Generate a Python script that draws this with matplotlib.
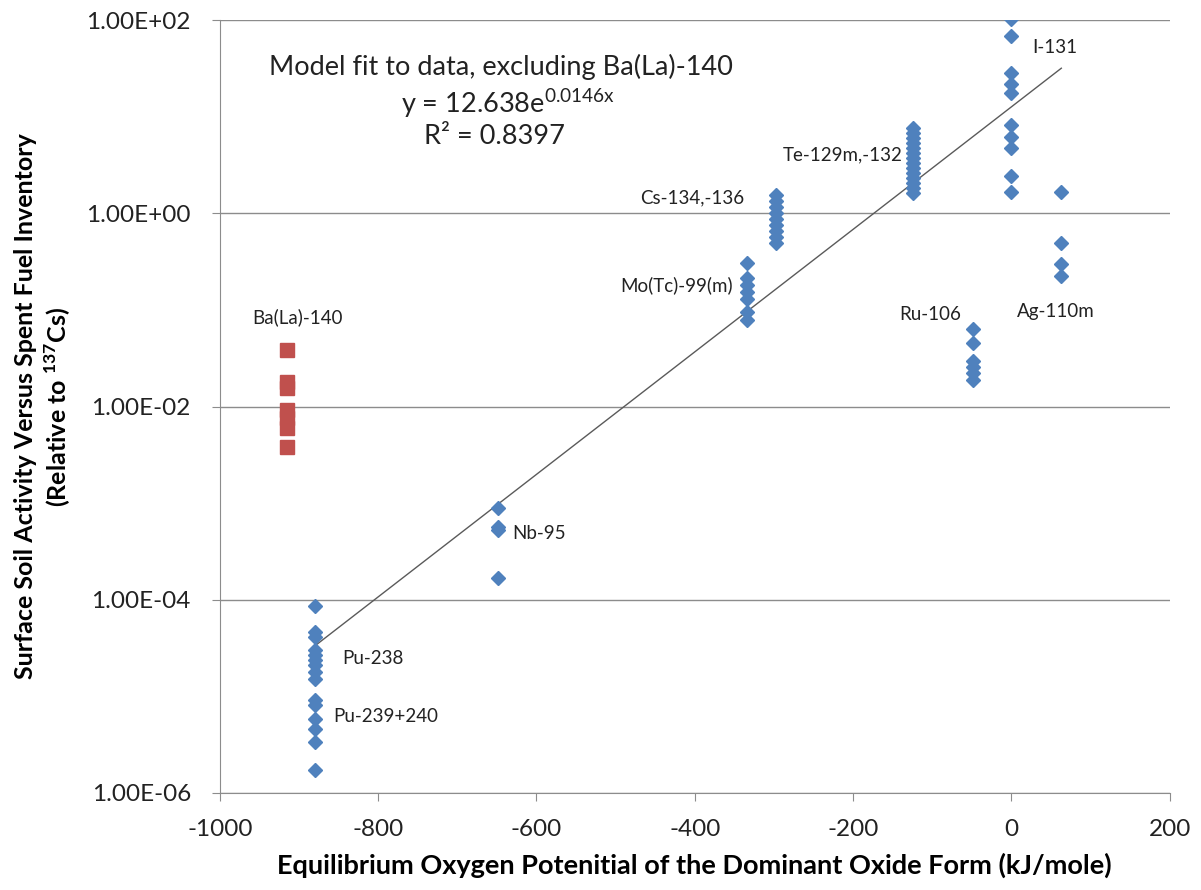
import numpy as np
import matplotlib
matplotlib.use("Agg")
from matplotlib import pyplot as plt
from matplotlib.ticker import FixedLocator, FuncFormatter

plt.rcParams["font.family"] = ["Lato", "DejaVu Sans"]
plt.rcParams["mathtext.fontset"] = "custom"
plt.rcParams["mathtext.rm"] = "Lato"
plt.rcParams["mathtext.bf"] = "Lato:bold"
plt.rcParams["axes.unicode_minus"] = False

# oxygen potential (kJ/mole) of each nuclide group, and measured ratios
iso_names = ["Pu", "Nb-95", "Mo(Tc)-99(m)", "Cs-134,-136", "Te-129m,-132",
             "Ru-106", "I-131", "Ag-110m"]
iso_x = [-880, -648, -334, -297, -124, -48, 0, 63]
iso_y = [
    [8.6e-5, 4.66e-5, 4.13e-5, 3.0e-5, 2.67e-5, 2.37e-5, 2.1e-5, 1.8e-5,
     1.53e-5, 9.1e-6, 8.1e-6, 5.9e-6, 4.65e-6, 3.4e-6, 1.72e-6],
    [8.8e-4, 5.7e-4, 5.25e-4, 1.66e-4],
    [0.303, 0.212, 0.181, 0.154, 0.131, 0.0955, 0.078],
    [1.54, 1.34, 1.16, 1.00, 0.87, 0.755, 0.655, 0.567, 0.491],
    [7.62, 6.76, 6.00, 5.33, 4.73, 4.20, 3.73, 3.31, 2.94, 2.61, 2.31,
     2.05, 1.82, 1.62],
    [0.0628, 0.0457, 0.0296, 0.0258, 0.022, 0.0188],
    [101.6, 68, 28.5, 22, 17.7, 8.2, 6.1, 4.7, 2.45, 1.67],
    [1.67, 0.495, 0.296, 0.224],
]

ba_x = -915
ba_y = [0.0384, 0.018, 0.0155, 0.0092, 0.0076, 0.006, 0.00383]

# exponential model fit (excluding Ba(La)-140)
fit_a = 12.638
fit_b = 0.0146

yticks = [1e-6, 1e-4, 1e-2, 1e0, 1e2]
xticks = [-1000, -800, -600, -400, -200, 0, 200]

fig = plt.figure(figsize=(12.01, 8.90), dpi=100)
ax = fig.add_axes([0.183, 0.109, 0.791, 0.8685])

blue = "#4F81BD"
red = "#C0504D"

for xv, ys in zip(iso_x, iso_y):
    ax.plot([xv] * len(ys), ys, linestyle="none", marker="D", ms=7.6,
            color=blue, zorder=3)
ax.plot([ba_x] * len(ba_y), ba_y, linestyle="none", marker="s", ms=10.5,
        color=red, zorder=3)

xf = np.linspace(min(iso_x), max(iso_x), 50)
ax.plot(xf, fit_a * np.exp(fit_b * xf), color="#5a5a5a", lw=1.0, zorder=2)

ax.set_yscale("log")
ax.set_xlim(-1000, 200)
ax.set_ylim(1e-6, 1e2)
ax.yaxis.set_major_locator(FixedLocator(yticks))
ax.yaxis.set_minor_locator(FixedLocator([]))
ax.yaxis.set_major_formatter(FuncFormatter(lambda v, p: f"{v:.2E}"))
ax.set_xticks(xticks)
ax.grid(axis="y", color="#8c8c8c", lw=1.0)
ax.set_axisbelow(True)
for s in ["top", "right"]:
    ax.spines[s].set_visible(False)
for s in ["left", "bottom"]:
    ax.spines[s].set_color("#8c8c8c")
ax.tick_params(axis="both", direction="out", length=5.8, color="#8c8c8c",
               labelsize=17.5, labelcolor="#222222")
ax.tick_params(axis="y", pad=15)
ax.tick_params(axis="x", pad=13)

ax.set_xlabel("Equilibrium Oxygen Potenitial of the Dominant Oxide Form (kJ/mole)",
              fontsize=19.5, fontweight="bold", labelpad=9)
ax.set_ylabel("Surface Soil Activity Versus Spent Fuel Inventory\n"
              r"(Relative to $^{\mathbf{137}}$Cs)",
              fontsize=18, fontweight="bold", labelpad=10)

lbl = dict(fontsize=13.5, color="#222222", va="center")
ax.text(26, 51.8, "I-131", ha="left", **lbl)
ax.text(-138, 4.0, "Te-129m,-132", ha="right", **lbl)
ax.text(-338, 1.43, "Cs-134,-136", ha="right", **lbl)
ax.text(-352, 0.181, "Mo(Tc)-99(m)", ha="right", **lbl)
ax.text(-64, 0.0898, "Ru-106", ha="right", **lbl)
ax.text(7, 0.0972, "Ag-110m", ha="left", **lbl)
ax.text(-902, 0.0849, "Ba(La)-140", ha="center", **lbl)
ax.text(-630, 4.85e-4, "Nb-95", ha="left", **lbl)
ax.text(-845, 2.47e-5, "Pu-238", ha="left", **lbl)
ax.text(-857, 6.14e-6, "Pu-239+240", ha="left", **lbl)

ann = dict(fontsize=19.5, color="#222222", ha="center", va="center")
fig.text(501 / 1201, 1 - 67 / 890, "Model fit to data, excluding Ba(La)-140", **ann)
fig.text(508 / 1201, 1 - 103 / 890, r"y = 12.638e$^{\mathrm{0.0146x}}$", **ann)
fig.text(495 / 1201, 1 - 136 / 890, "R² = 0.8397", **ann)

fig.savefig("out.png", dpi=100)
